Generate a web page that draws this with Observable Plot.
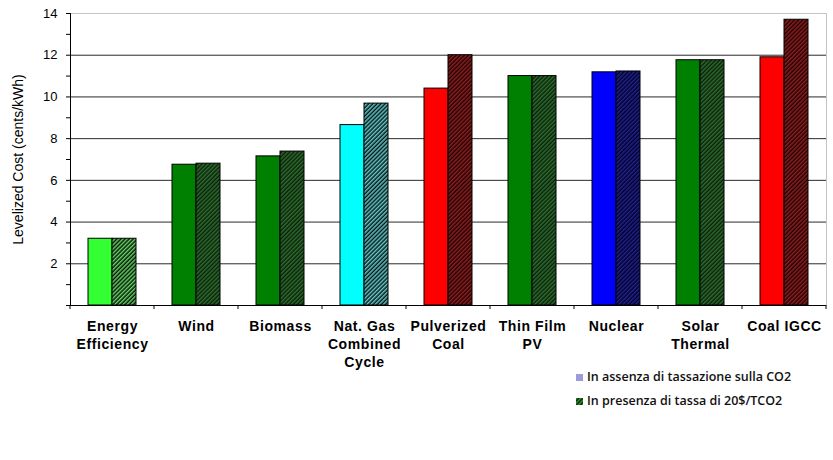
<!DOCTYPE html>
<html>
<head>
<meta charset="utf-8">
<script src="https://cdn.jsdelivr.net/npm/d3@7"></script>
<script src="https://cdn.jsdelivr.net/npm/@observablehq/plot@0.6"></script>
<style>
  html, body { margin: 0; padding: 0; background: white; }
  #wrap { position: relative; width: 833px; height: 460px; }
  #legend { position: absolute; left: 576px; top: 365px; font-family: "Open Sans", sans-serif; font-size: 12.5px; font-weight: 600; color: #111; }
  #legend .row { height: 24px; line-height: 24px; display: flex; align-items: center; }
  #legend .sw { width: 7px; height: 7px; margin-right: 4px; display: inline-block; }
</style>
</head>
<body>
<div id="wrap"></div>
<script>
// ---- data ----
const categories = ["Energy\nEfficiency", "Wind", "Biomass", "Nat. Gas\nCombined\nCycle", "Pulverized\nCoal", "Thin Film\nPV", "Nuclear", "Solar\nThermal", "Coal IGCC"];
const noTax   = [3.2, 6.75, 7.15, 8.65, 10.4, 11.0, 11.18, 11.76, 11.9];
const withTax = [3.2, 6.8, 7.38, 9.68, 12.0, 11.0, 11.22, 11.76, 13.7];
const seriesNames = ["In assenza di tassazione sulla CO2", "In presenza di tassa di 20$/TCO2"];
const yTicks = [2, 4, 6, 8, 10, 12, 14];

// ---- styles ----
const solidColor = ["#33ff33", "#008000", "#008000", "#00ffff", "#ff0000", "#008000", "#0000ff", "#008000", "#ff0000"];
const hatchFg    = ["#66d466", "#2f6e2f", "#2f6e2f", "#66c8c8", "#8a2222", "#2f6e2f", "#23238a", "#2f6e2f", "#8a2222"];
const hatchBg    = ["#061406", "#0a1f0a", "#0a1f0a", "#061616", "#250000", "#0a1f0a", "#00002e", "#0a1f0a", "#250000"];

const rows = [];
categories.forEach((c, i) => {
  rows.push({cat: c, series: "a", value: noTax[i], fill: solidColor[i]});
  rows.push({cat: c, series: "b", value: withTax[i], fill: `url(#hatch${i})`});
});

const chart = Plot.plot({
  width: 833,
  height: 460,
  marginTop: 13,
  marginBottom: 155,
  marginLeft: 70,
  marginRight: 7,
  style: {fontFamily: "'Liberation Sans', Arial, sans-serif", background: "white", color: "black", overflow: "visible"},
  fx: {domain: categories, padding: 0, axis: null},
  x: {domain: ["a", "b"], paddingInner: 0, paddingOuter: 0.75, axis: null},
  y: {domain: [0, 14]},
  color: {type: "identity"},
  marks: [
    Plot.ruleY(yTicks.filter(d => d < 14), {stroke: "#2a2a2a", strokeWidth: 1}),
    Plot.ruleY([14], {stroke: "#c4c4c4", strokeWidth: 1}),
    Plot.barY(rows, {fx: "cat", x: "series", y: "value", fill: "fill", stroke: "black", strokeWidth: 1}),
    Plot.ruleY([0], {stroke: "black", strokeWidth: 1}),
    Plot.frame({anchor: "left", facetAnchor: "left", stroke: "black"}),
    Plot.frame({anchor: "right", facetAnchor: "right", stroke: "#c4c4c4"}),
    Plot.axisY({ticks: d3.range(0, 15), tickSize: 4, tickFormat: () => "", label: null}),
    Plot.axisY({ticks: yTicks, tickSize: 0, tickPadding: 13, fontSize: 13, label: null}),
    Plot.text(["Levelized Cost (cents/kWh)"], {frameAnchor: "left", textAnchor: "middle", dx: -52, rotate: -90, fontSize: 14, facetAnchor: "left"}),
    Plot.text(categories, {fx: d => d, text: d => d, frameAnchor: "bottom", lineAnchor: "top", dy: 13, fontWeight: "bold", fontSize: 14, lineHeight: 1.27})
  ]
});

// hatch patterns
const svg = d3.select(chart);
const defs = svg.insert("defs", ":first-child");
categories.forEach((c, i) => {
  const p = defs.append("pattern")
    .attr("id", `hatch${i}`)
    .attr("patternUnits", "userSpaceOnUse")
    .attr("width", 2.9).attr("height", 8)
    .attr("patternTransform", "rotate(45)");
  p.append("rect").attr("width", 2.9).attr("height", 8).attr("fill", hatchBg[i]);
  p.append("rect").attr("width", 1.45).attr("height", 8).attr("fill", hatchFg[i]);
});

// slightly wider tracking for the category labels
svg.selectAll('g[font-weight="bold"] text').attr("letter-spacing", "0.6px");

// category boundary ticks below the axis
const fx = chart.scale("fx");
const y = chart.scale("y");
const bounds = categories.map(c => fx.apply(c)).concat([fx.apply(categories[categories.length - 1]) + fx.bandwidth]);
const y0 = y.apply(0);
svg.append("g").attr("stroke", "black").selectAll("line").data(bounds).join("line")
  .attr("x1", d => d).attr("x2", d => d).attr("y1", y0).attr("y2", y0 + 4);

document.getElementById("wrap").appendChild(chart);

// legend
const legend = document.createElement("div");
legend.id = "legend";
legend.innerHTML = `
  <div class="row"><span class="sw" style="background:#9c9cdc"></span>${seriesNames[0]}</div>
  <div class="row"><svg class="sw" width="7" height="7" style="overflow:hidden"><defs><pattern id="lh" patternUnits="userSpaceOnUse" width="2.9" height="8" patternTransform="rotate(45)"><rect width="2.9" height="8" fill="#0a1f0a"/><rect width="1.45" height="8" fill="#2f9a2f"/></pattern></defs><rect width="7" height="7" fill="url(#lh)"/></svg>${seriesNames[1]}</div>`;
document.getElementById("wrap").appendChild(legend);
</script>
</body>
</html>
